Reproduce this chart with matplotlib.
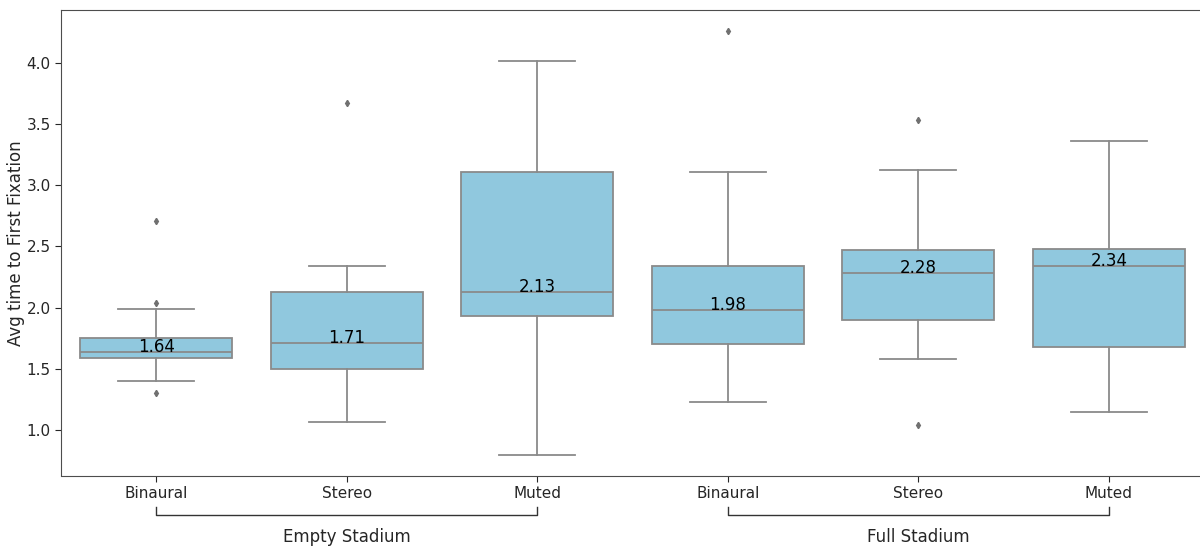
import matplotlib
matplotlib.use("Agg")
import matplotlib.pyplot as plt

# ---- data ----
tick_labels = ["Binaural", "Stereo", "Muted", "Binaural", "Stereo", "Muted"]
groups = ["Empty Stadium", "Full Stadium"]
whislo = [1.40, 1.07, 0.80, 1.23, 1.58, 1.15]
q1 = [1.59, 1.50, 1.93, 1.70, 1.90, 1.68]
med = [1.64, 1.71, 2.13, 1.98, 2.28, 2.34]
q3 = [1.75, 2.13, 3.11, 2.34, 2.47, 2.48]
whishi = [1.99, 2.34, 4.01, 3.11, 3.12, 3.36]
fliers = [[2.71, 2.04, 1.30], [3.67], [], [4.26], [3.53, 1.04], []]
ylabel = "Avg time to First Fixation"
yticks = [1.0, 1.5, 2.0, 2.5, 3.0, 3.5, 4.0]

fill = "#90c8de"
edge = "#8a8a8a"

fig = plt.figure(figsize=(12, 5.46), dpi=100)
# axes extends slightly past the right edge (right spine cropped in the reference)
ax = fig.add_axes([61 / 1200, 1 - 475.5 / 546, 1143 / 1200, 465.5 / 546])

stats = []
for i in range(len(tick_labels)):
    stats.append(dict(whislo=whislo[i], q1=q1[i], med=med[i], q3=q3[i],
                      whishi=whishi[i], fliers=fliers[i], label=tick_labels[i]))

positions = list(range(len(tick_labels)))
ax.bxp(stats, positions=positions, widths=0.8, patch_artist=True,
       boxprops=dict(facecolor=fill, edgecolor=edge, linewidth=1.3),
       medianprops=dict(color=edge, linewidth=1.3),
       whiskerprops=dict(color=edge, linewidth=1.3),
       capprops=dict(color=edge, linewidth=1.3),
       capwidths=0.4,
       flierprops=dict(marker="d", markerfacecolor="#707070", markeredgecolor="#707070",
                       markersize=3.2, linestyle="none"))

for p, m in zip(positions, med):
    ax.text(p, m, f"{m:.2f}", ha="center", va="baseline", fontsize=12, color="black")

ax.set_xlim(-0.5, len(tick_labels) - 0.5)
ax.set_ylim(0.63, 4.43)
ax.set_yticks(yticks)
ax.set_yticklabels([f"{t:.1f}" for t in yticks])
ax.set_xticks(positions)
ax.set_xticklabels(tick_labels)
ax.tick_params(labelsize=11, colors="#262626", length=4)
ax.set_ylabel(ylabel, fontsize=12, color="#262626", labelpad=1)
for s in ax.spines.values():
    s.set_color("#4d4d4d")

# group brackets
trans = ax.get_xaxis_transform()
y_line = -(515 - 475.5) / 465.5
y_end = -(507 - 475.5) / 465.5
y_text = -(537 - 475.5) / 465.5
for gi, g in enumerate(groups):
    a, b = gi * 3, gi * 3 + 2
    ax.plot([a, a, b, b], [y_end, y_line, y_line, y_end], color="#333333",
            linewidth=1.0, transform=trans, clip_on=False)
    ax.text((a + b) / 2, y_text, g, ha="center", va="center", fontsize=12,
            color="#262626", transform=trans)

fig.savefig("out.png", dpi=100)
